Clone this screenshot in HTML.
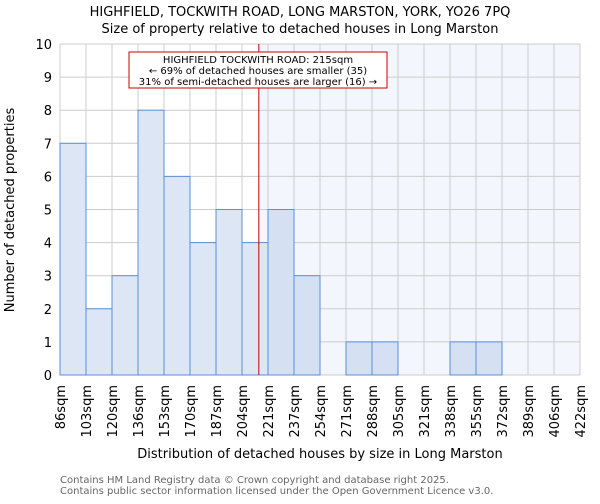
<!DOCTYPE html>
<html><head><meta charset="utf-8"><style>
body{margin:0;background:#fff;font-family:"DejaVu Sans","Liberation Sans",sans-serif}
</style></head><body>
<svg width="600" height="500" xmlns="http://www.w3.org/2000/svg" font-family="DejaVu Sans, Liberation Sans, sans-serif">
<text x="300" y="16" text-anchor="middle" font-size="13">HIGHFIELD, TOCKWITH ROAD, LONG MARSTON, YORK, YO26 7PQ</text>
<text x="300" y="33" text-anchor="middle" font-size="13">Size of property relative to detached houses in Long Marston</text>
<g id="plot"></g>
<text transform="translate(14,210) rotate(-90)" text-anchor="middle" font-size="13">Number of detached properties</text>
<text x="320" y="458" text-anchor="middle" font-size="13">Distribution of detached houses by size in Long Marston</text>
<text x="60" y="483" font-size="10" fill="#666">Contains HM Land Registry data © Crown copyright and database right 2025.</text>
<text x="60" y="494" font-size="10" fill="#666">Contains public sector information licensed under the Open Government Licence v3.0.</text>
</svg>
<script>
const binLabels=["86sqm","103sqm","120sqm","136sqm","153sqm","170sqm","187sqm","204sqm","221sqm","237sqm","254sqm","271sqm","288sqm","305sqm","321sqm","338sqm","355sqm","372sqm","389sqm","406sqm","422sqm"];
const binStarts=[86,103,120,136,153,170,187,204,221,237,254,271,288,305,321,338,355,372,389,406];
const counts=[7,2,3,8,6,4,5,4,5,3,0,1,1,0,0,1,1,0,0,0];
const yTicks=[0,1,2,3,4,5,6,7,8,9,10];
const markerValue=215;
const NS="http://www.w3.org/2000/svg";
const L=60,R=580,T=44,B=375,nb=counts.length,bw=(R-L)/nb;
const x=i=>L+i*bw;
const y=v=>B-(v/10)*(B-T);
const xv=v=>{for(let i=0;i<nb;i++){const a=binStarts[i],b=i+1<nb?binStarts[i+1]:422;if(v>=a&&v<=b)return x(i)+(v-a)/(b-a)*bw;}return R;};
const g=document.getElementById('plot');
function mk(t,a){const e=document.createElementNS(NS,t);for(const k in a)e.setAttribute(k,a[k]);g.appendChild(e);return e;}
const mx=xv(markerValue);
let e=mk('rect',{x:mx,y:T,width:R-mx,height:B-T,fill:'#f3f6fd'});


for(let i=0;i<=nb;i++){e=mk('line',{x1:x(i),x2:x(i),y1:T,y2:B,stroke:'#ccc','stroke-width':1});

}
yTicks.forEach(t=>{e=mk('line',{x1:L,x2:R,y1:y(t),y2:y(t),stroke:'#ccc','stroke-width':1});


e=mk('text',{x:L-8,y:y(t)+5,'text-anchor':'end','font-size':13});e.textContent=t;

});
counts.forEach((c,i)=>{if(!c)return;const right=x(i)>=mx;
e=mk('rect',{x:x(i),y:y(c),width:bw,height:B-y(c),fill:right?'#d5e1f3':'#dce6f5',stroke:'#5b8fd6','stroke-width':1});

});
binLabels.forEach((lb,i)=>{e=mk('text',{transform:`translate(${x(i)+5},385) rotate(-90)`,'text-anchor':'end','font-size':13});e.textContent=lb;

});
e=mk('line',{x1:mx,x2:mx,y1:T,y2:B,stroke:'#c00','stroke-width':1});


e=mk('rect',{x:129,y:52,width:258,height:36,fill:'#fff',stroke:'#c00','stroke-width':1});


["HIGHFIELD TOCKWITH ROAD: 215sqm","← 69% of detached houses are smaller (35)","31% of semi-detached houses are larger (16) →"].forEach((s,k)=>{
e=mk('text',{x:258,y:63+k*11,'text-anchor':'middle','font-size':10});e.textContent=s;

});
</script>
</body></html>
